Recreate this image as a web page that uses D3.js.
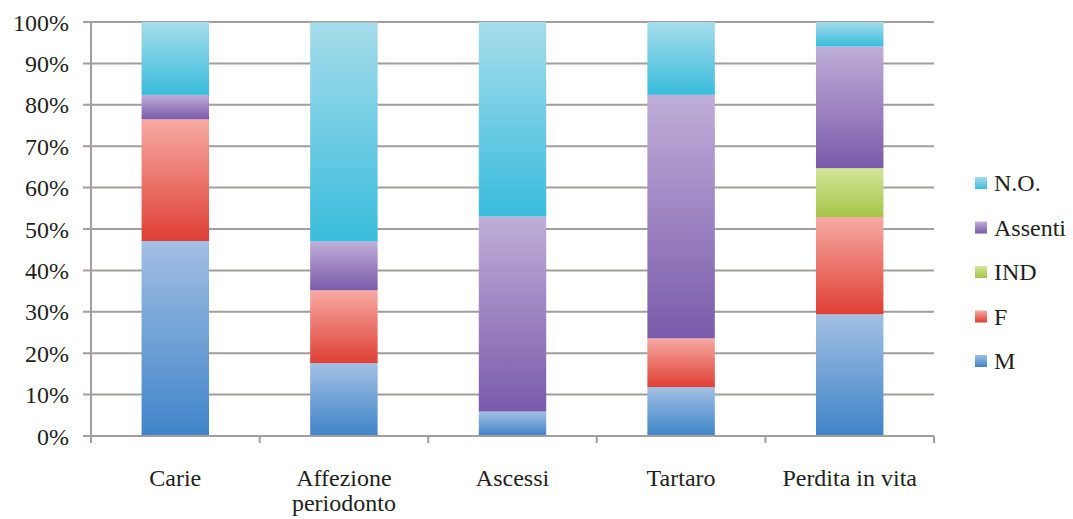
<!DOCTYPE html>
<html>
<head>
<meta charset="utf-8">
<script src="https://cdn.jsdelivr.net/npm/d3@7"></script>
<style>
  html, body { margin: 0; padding: 0; background: #fff; }
  svg { display: block; }
</style>
</head>
<body>
<svg id="chart" width="1073" height="519"></svg>
<script>
// Categories (x-axis) and their display lines
const categories = ["Carie", "Affezione periodonto", "Ascessi", "Tartaro", "Perdita in vita"];
const categoryLines = [["Carie"], ["Affezione", "periodonto"], ["Ascessi"], ["Tartaro"], ["Perdita in vita"]];

// Series, bottom to top, as percentages of each column
const seriesNames = ["M", "F", "IND", "Assenti", "N.O."];
const M       = [47.1, 17.6,  5.9, 11.8, 29.4];
const F       = [29.4, 17.6,  0.0, 11.8, 23.5];
const IND     = [ 0.0,  0.0,  0.0,  0.0, 11.8];
const Assenti = [ 5.9, 11.8, 47.1, 58.8, 29.4];
const NO      = [17.6, 52.9, 47.0, 17.6,  5.9];

const yTicks = [0, 10, 20, 30, 40, 50, 60, 70, 80, 90, 100];

// Light (top) and dark (bottom) gradient stops per series
const palette = {
  "M":       ["#a2bfe3", "#3f84c9"],
  "F":       ["#f6aaa3", "#df3f34"],
  "IND":     ["#d3e59a", "#a5c548"],
  "Assenti": ["#bfaed8", "#7a5aab"],
  "N.O.":    ["#a6dcea", "#39bcdd"]
};

const FONT = "'Liberation Serif', 'DejaVu Serif', serif";
const INK = "#231f20";

const seriesValues = [M, F, IND, Assenti, NO];
const rows = categories.map((c, i) => {
  const r = { category: c };
  seriesNames.forEach((s, j) => { r[s] = seriesValues[j][i]; });
  return r;
});

const svg = d3.select("#chart");
const margin = { left: 91, right: 139, top: 22, bottom: 83 };
const W = 1073, H = 519;
const plotW = W - margin.left - margin.right;
const plotH = H - margin.top - margin.bottom;

const x = d3.scaleBand().domain(categories).range([margin.left, margin.left + plotW]).paddingInner(0.6).paddingOuter(0.3);
const y = d3.scaleLinear().domain([0, 100]).range([margin.top + plotH, margin.top]);

// Gradients
const defs = svg.append("defs");
seriesNames.forEach((s, i) => {
  const g = defs.append("linearGradient").attr("id", "grad" + i)
    .attr("x1", 0).attr("y1", 0).attr("x2", 0).attr("y2", 1);
  g.append("stop").attr("offset", "0%").attr("stop-color", palette[s][0]);
  g.append("stop").attr("offset", "100%").attr("stop-color", palette[s][1]);
});

const gridColor = "#a39d9d";

// Horizontal gridlines with left tick stubs
svg.append("g").selectAll("line").data(yTicks).join("line")
  .attr("x1", margin.left - 8).attr("x2", margin.left + plotW)
  .attr("y1", d => y(d)).attr("y2", d => y(d))
  .attr("stroke", gridColor).attr("stroke-width", 2);

// Y axis labels
const yAxis = d3.axisLeft(y).tickValues(yTicks).tickFormat(d => d + "%").tickSize(0).tickPadding(22);
const yg = svg.append("g").attr("transform", `translate(${margin.left},0)`).call(yAxis);
yg.attr("font-family", FONT).attr("font-size", 24);
yg.select(".domain").remove();
yg.selectAll("text")
  .attr("font-family", FONT).attr("font-size", 24)
  .attr("fill", INK).attr("dy", "0.34em");

// Stacked bars
const stack = d3.stack().keys(seriesNames)(rows);
svg.append("g").selectAll("g").data(stack).join("g")
  .attr("fill", (d, i) => `url(#grad${i})`)
  .selectAll("rect").data(d => d.filter(p => p[1] - p[0] > 0)).join("rect")
  .attr("x", d => x(d.data.category))
  .attr("width", x.bandwidth())
  .attr("y", d => y(d[1]))
  .attr("height", d => y(d[0]) - y(d[1]));

// Axis lines
svg.append("line").attr("x1", margin.left).attr("x2", margin.left)
  .attr("y1", margin.top).attr("y2", margin.top + plotH)
  .attr("stroke", gridColor).attr("stroke-width", 2);
svg.append("line").attr("x1", margin.left - 8).attr("x2", margin.left + plotW)
  .attr("y1", y(0)).attr("y2", y(0))
  .attr("stroke", gridColor).attr("stroke-width", 2);

// Category separators below the baseline
const bounds = d3.range(categories.length + 1).map(i => margin.left + i * plotW / categories.length);
svg.append("g").selectAll("line").data(bounds).join("line")
  .attr("x1", d => d).attr("x2", d => d)
  .attr("y1", y(0)).attr("y2", y(0) + 7)
  .attr("stroke", gridColor).attr("stroke-width", 2);

// Category labels
const xl = svg.append("g").selectAll("text").data(categories).join("text")
  .attr("text-anchor", "middle")
  .attr("x", d => x(d) + x.bandwidth() / 2)
  .attr("y", 486)
  .attr("fill", INK)
  .attr("font-family", FONT).attr("font-size", 24);
xl.each(function(d, i) {
  categoryLines[i].forEach((line, k) => {
    d3.select(this).append("tspan").attr("x", x(d) + x.bandwidth() / 2).attr("dy", k === 0 ? 0 : 25).text(line);
  });
});

// Legend, top to bottom in reverse stack order
const legendItems = seriesNames.slice().reverse();
const lg = svg.append("g").selectAll("g").data(legendItems).join("g")
  .attr("transform", (d, i) => `translate(975, ${183 + i * 44.5})`);
lg.append("rect").attr("x", 0).attr("y", -6).attr("width", 12).attr("height", 12)
  .attr("fill", d => `url(#grad${seriesNames.indexOf(d)})`);
lg.append("text").attr("x", 19).attr("y", 0).attr("dy", "0.34em")
  .attr("fill", INK)
  .attr("font-family", FONT).attr("font-size", 24).text(d => d);
</script>
</body>
</html>
